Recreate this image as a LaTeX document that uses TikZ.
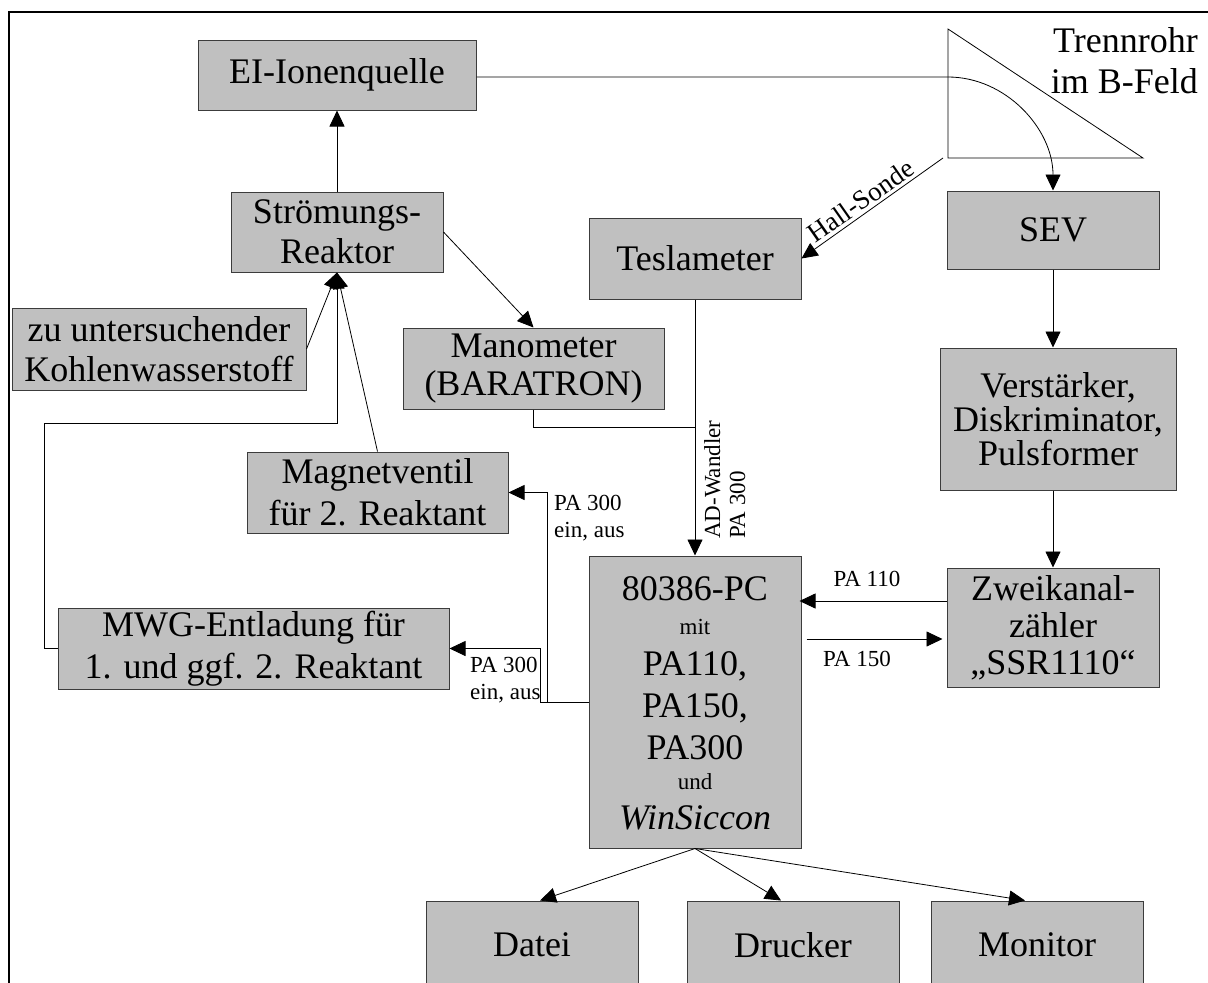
\documentclass[tikz,border=0pt]{standalone}
\usepackage{fontspec}
\setmainfont{Liberation Serif}
\usetikzlibrary{arrows.meta}
\definecolor{boxgray}{RGB}{192,192,192}
\definecolor{boxline}{RGB}{60,60,60}
\newcommand\bigf{\fontsize{36}{40}\selectfont}
\newcommand\smf{\fontsize{23}{27}\selectfont}
\begin{document}
\begin{tikzpicture}[x=1pt,y=-1pt,
  box/.style={draw=boxline, fill=boxgray, line width=1pt, inner sep=0pt, align=center, font=\bigf},
  arr/.style={-{Triangle[length=16pt,width=15pt]}, line width=0.8pt},
  ln/.style={line width=0.8pt},
  lbl/.style={font=\smf, inner sep=0pt, align=left},
  pctxt/.style={anchor=base, inner sep=0pt}]
\useasboundingbox (0,0) rectangle (1208,983);
\fill[white] (0,0) rectangle (1208,983);
% frame
\coordinate (f1) at (1208,12);
\coordinate (f2) at (9,12);
\coordinate (f3) at (9,983);
\draw[line width=1.2pt] (f1) -- (f2) -- (f3);

% boxes
\node[box, minimum width=278pt, minimum height=70pt] (ei) at (337,75) {EI-Ionenquelle};
\node[box, minimum width=212pt, minimum height=80pt] (sr) at (337,232) {Strömungs-\\Reaktor};
\node[box, minimum width=294pt, minimum height=82pt] (kw) at (159,349) {zu untersuchender\\Kohlenwasserstoff};
\node[box, minimum width=261pt, minimum height=81pt, font=\fontsize{36}{42}\selectfont] (mv) at (377.5,492.5) {Magnetventil\\für 2. Reaktant};
\node[box, minimum width=391pt, minimum height=81pt, font=\fontsize{36}{42}\selectfont] (mwg) at (253.5,648.5) {MWG-Entladung für\\1. und ggf. 2. Reaktant};
\node[box, minimum width=261pt, minimum height=81pt, font=\fontsize{36}{38}\selectfont] (man) at (533.5,368.5) {Manometer\\(BARATRON)};
\node[box, minimum width=212pt, minimum height=81pt] (tes) at (695,258.5) {Teslameter};
\node[box, minimum width=212pt, minimum height=78pt] (sev) at (1053,230) {SEV};
\node[box, minimum width=236pt, minimum height=142pt, font=\fontsize{36}{34}\selectfont] (vst) at (1058,419) {Verstärker,\\Diskriminator,\\Pulsformer};
\node[box, minimum width=212pt, minimum height=119pt, font=\fontsize{36}{37}\selectfont] (zw) at (1053,627.5) {Zweikanal-\\zähler\\„SSR1110“};
\node[box, minimum width=212pt, minimum height=292pt] (pc) at (695,702) {};
\node[pctxt, font=\bigf] (pc1) at (695,600) {80386-PC};
\node[pctxt, font=\smf] (pc2) at (695,634) {mit};
\node[pctxt, font=\bigf] (pc3) at (695,675) {PA110,};
\node[pctxt, font=\bigf] (pc4) at (695,717) {PA150,};
\node[pctxt, font=\bigf] (pc5) at (695,759) {PA300};
\node[pctxt, font=\smf] (pc6) at (695,789) {und};
\node[pctxt, font=\bigf] (pc7) at (695,829) {\textit{WinSiccon}};
\node[box, minimum width=212pt, minimum height=88pt] (datei) at (532,945) {Datei};
\node[box, minimum width=212pt, minimum height=88pt] (dru) at (793,945) {Drucker};
\node[box, minimum width=212pt, minimum height=88pt] (mon) at (1037,945) {Monitor};

% separation tube
\coordinate (t1) at (948,29);
\coordinate (t2) at (948,158);
\coordinate (t3) at (1143,158);
\draw[ln] (t1) -- (t2) -- (t3) -- cycle;
\node[font=\fontsize{36}{41}\selectfont, align=right, inner sep=0pt, anchor=north east] (tr) at (1198,27) {Trennrohr\\im B-Feld};

% ion beam
\coordinate (b1) at (948,77);
\draw[arr] ([yshift=-2pt]ei.east) -- (b1) .. controls (1006,77) and (1053,129) .. (sev.north);

% Hall probe
\coordinate (hs) at (943,158);
\draw[arr] (hs) -- node[font=\fontsize{27}{30}\selectfont, rotate=35, anchor=south, inner sep=3pt, pos=0.53] (hl) {Hall-Sonde} (tes.east);

% reactor connections
\draw[arr] (sr.north) -- (ei.south);
\draw[arr] (sr.east) -- (man.north);
\draw[arr] (kw.east) -- (sr.south);
\draw[arr] (mv.north) -- (sr.south);
\coordinate (k1) at (44,423);
\draw[arr] (mwg.west) -| (k1) -| (sr.south);

% Teslameter / Manometer to PC
\draw[arr] (tes.south) -- (pc.north);
\coordinate (j1) at (695,427);
\draw[ln] (man.south) |- (j1);
\node[lbl, font=\fontsize{23}{25}\selectfont, rotate=90, anchor=north west] (adw) at (704,539) {AD-Wandler\\PA 300};

% PC to valves
\draw[arr] (pc.west) -- ++(-41,0) |- (mv.east);
\draw[arr] (pc.west) -- ++(-48,0) |- (mwg.east);
\node[lbl, anchor=north west] (l3a) at (554,495) {PA 300\\ein, aus};
\node[lbl, anchor=north west] (l3b) at (470,657) {PA 300\\ein, aus};

% PC <-> counter
\coordinate (q1) at (0,601);
\coordinate (q2) at (0,639);
\draw[arr, shorten >=-2pt] (zw.west |- q1) -- (pc.east |- q1);
\draw[arr, shorten <=5pt, shorten >=4pt] (pc.east |- q2) -- (zw.west |- q2);
\node[lbl] (l110) at (867,579) {PA 110};
\node[lbl] (l150) at (857,659) {PA 150};

% detector chain
\draw[arr] (sev.south) -- (sev.south |- vst.north);
\draw[arr] (zw.north |- vst.south) -- (zw.north);

% outputs
\draw[arr] (pc.south) -- ([xshift=8pt]datei.north);
\draw[arr] (pc.south) -- ([xshift=-12pt]dru.north);
\draw[arr] (pc.south) -- ([xshift=-12pt]mon.north);
\end{tikzpicture}
\end{document}
